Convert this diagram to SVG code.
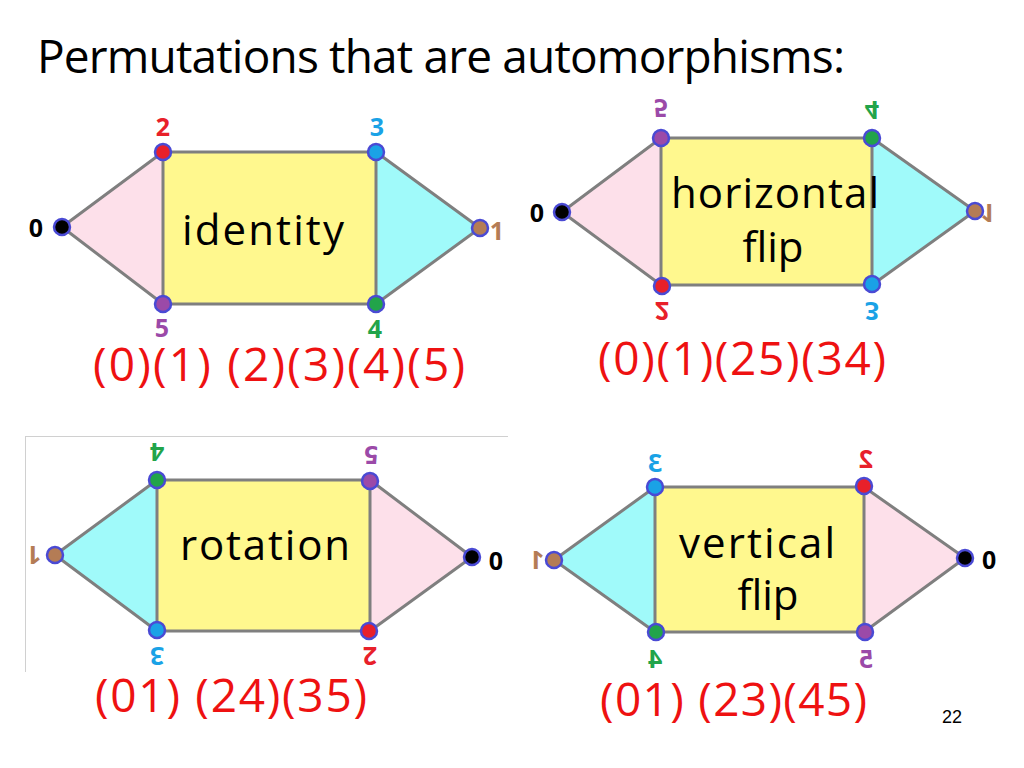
<svg xmlns="http://www.w3.org/2000/svg" width="1024" height="768" viewBox="0 0 1024 768">
<style>
  .txt { font-family: "Comic Sans MS", "Open Sans", "DejaVu Sans", sans-serif; }
  .title { font-size: 46px; fill: #000; }
  .perm { font-size: 46px; fill: #ee1111; }
  .inner { font-size: 42px; fill: #000; text-anchor: middle; }
  .lbl { font-family: "Comic Sans MS", "Open Sans", "DejaVu Sans", sans-serif; font-size: 25px; font-weight: bold; text-anchor: middle; }
  .edge { stroke: #7f7f7f; stroke-width: 3; fill: none; stroke-linecap: round; }
  .pink { fill: #fde0ea; }
  .cyan { fill: #a0fafa; }
  .yel { fill: #fff88e; }
  .node { stroke: #4a4ad4; stroke-width: 2.5; }
  .c0 { fill: #000000; } .c1 { fill: #b47c55; } .c2 { fill: #e8202a; }
  .c3 { fill: #1aa2e6; } .c4 { fill: #22a44a; } .c5 { fill: #9b4aa8; }
  .pg { font-family: "Liberation Sans", Arial, sans-serif; font-size: 18px; fill: #000; }
</style>
<rect width="1024" height="768" fill="#ffffff"/>

<text class="txt title" x="37" y="73" textLength="808" lengthAdjust="spacing">Permutations that are automorphisms:</text>

<!-- Diagram 1: identity -->
<g id="d1">
  <g id="d1-faces">
    <polygon class="pink" points="62,227 163,152 163,304"/>
    <rect class="yel" x="163" y="152" width="213" height="152"/>
    <polygon class="cyan" points="480,228 376,152 376,304"/>
  </g>
  <g id="d1-edges">
    <line class="edge" x1="62" y1="227" x2="163" y2="152"/>
    <line class="edge" x1="163" y1="152" x2="376" y2="152"/>
    <line class="edge" x1="376" y1="152" x2="480" y2="228"/>
    <line class="edge" x1="480" y1="228" x2="376" y2="304"/>
    <line class="edge" x1="376" y1="304" x2="163" y2="304"/>
    <line class="edge" x1="163" y1="304" x2="62" y2="227"/>
    <line class="edge" x1="163" y1="152" x2="163" y2="304"/>
    <line class="edge" x1="376" y1="152" x2="376" y2="304"/>
  </g>
  <text class="txt inner" x="263" y="245" textLength="162" lengthAdjust="spacing">identity</text>
  <g id="d1-n0"><circle class="node c0" cx="62" cy="227" r="8"/><text class="lbl c0" transform="translate(36,228)" y="9">0</text></g>
  <g id="d1-n1"><circle class="node c1" cx="480" cy="228" r="8"/><text class="lbl c1" transform="translate(497,231)" y="9">1</text></g>
  <g id="d1-n2"><circle class="node c2" cx="163" cy="152" r="8"/><text class="lbl c2" transform="translate(163,127)" y="9">2</text></g>
  <g id="d1-n3"><circle class="node c3" cx="376" cy="152" r="8"/><text class="lbl c3" transform="translate(377,127)" y="9">3</text></g>
  <g id="d1-n4"><circle class="node c4" cx="376" cy="304" r="8"/><text class="lbl c4" transform="translate(375,329)" y="9">4</text></g>
  <g id="d1-n5"><circle class="node c5" cx="163" cy="304" r="8"/><text class="lbl c5" transform="translate(162,328)" y="9">5</text></g>
  <text class="txt perm" x="93" y="381" textLength="372" lengthAdjust="spacing">(0)(1) (2)(3)(4)(5)</text>
</g>

<!-- Diagram 2: horizontal flip -->
<g id="d2">
  <g id="d2-faces">
    <polygon class="pink" points="562,212 661,138 661,285"/>
    <rect class="yel" x="661" y="138" width="211" height="147"/>
    <polygon class="cyan" points="975,211 872,138 872,285"/>
  </g>
  <g id="d2-edges">
    <line class="edge" x1="562" y1="212" x2="661" y2="138"/>
    <line class="edge" x1="661" y1="138" x2="872" y2="138"/>
    <line class="edge" x1="872" y1="138" x2="975" y2="211"/>
    <line class="edge" x1="975" y1="211" x2="872" y2="285"/>
    <line class="edge" x1="872" y1="285" x2="661" y2="285"/>
    <line class="edge" x1="661" y1="285" x2="562" y2="212"/>
    <line class="edge" x1="661" y1="138" x2="661" y2="285"/>
    <line class="edge" x1="872" y1="138" x2="872" y2="285"/>
  </g>
  <text class="txt inner" x="775" y="208" textLength="208" lengthAdjust="spacing">horizontal</text>
  <text class="txt inner" x="773" y="262">flip</text>
  <g id="d2-n0"><circle class="node c0" cx="562" cy="212" r="8"/><text class="lbl c0" transform="translate(537,213) scale(1,-1)" y="9">0</text></g>
  <g id="d2-n1"><circle class="node c1" cx="975" cy="211" r="8"/><text class="lbl c1" transform="translate(988,213) scale(1,-1)" y="9">1</text></g>
  <g id="d2-n5"><circle class="node c5" cx="661" cy="138" r="8"/><text class="lbl c5" transform="translate(661,108) scale(1,-1)" y="9">5</text></g>
  <g id="d2-n4"><circle class="node c4" cx="872" cy="138" r="8"/><text class="lbl c4" transform="translate(872,110) scale(1,-1)" y="9">4</text></g>
  <g id="d2-n3"><circle class="node c3" cx="872" cy="284" r="8"/><text class="lbl c3" transform="translate(872,311) scale(1,-1)" y="9">3</text></g>
  <g id="d2-n2"><circle class="node c2" cx="662" cy="286" r="8"/><text class="lbl c2" transform="translate(662,311) scale(1,-1)" y="9">2</text></g>
  <text class="txt perm" x="598" y="375" textLength="288" lengthAdjust="spacing">(0)(1)(25)(34)</text>
</g>

<!-- Diagram 3: rotation -->
<g id="d3">
  <g id="d3-frame">
    <line x1="25" y1="436.5" x2="508" y2="436.5" stroke="#d0d0d0" stroke-width="1"/>
    <line x1="25.5" y1="436" x2="25.5" y2="672" stroke="#d0d0d0" stroke-width="1"/>
  </g>
  <g id="d3-faces">
    <polygon class="cyan" points="55,555 157,480 157,631"/>
    <rect class="yel" x="157" y="480" width="213" height="151"/>
    <polygon class="pink" points="472,557 370,480 370,631"/>
  </g>
  <g id="d3-edges">
    <line class="edge" x1="55" y1="555" x2="157" y2="480"/>
    <line class="edge" x1="157" y1="480" x2="370" y2="480"/>
    <line class="edge" x1="370" y1="480" x2="472" y2="557"/>
    <line class="edge" x1="472" y1="557" x2="370" y2="631"/>
    <line class="edge" x1="370" y1="631" x2="157" y2="631"/>
    <line class="edge" x1="157" y1="631" x2="55" y2="555"/>
    <line class="edge" x1="157" y1="480" x2="157" y2="631"/>
    <line class="edge" x1="370" y1="480" x2="370" y2="631"/>
  </g>
  <text class="txt inner" x="265" y="560" textLength="170" lengthAdjust="spacing">rotation</text>
  <g id="d3-n1"><circle class="node c1" cx="55" cy="555" r="8"/><text class="lbl c1" transform="translate(34,555) rotate(180)" y="9">1</text></g>
  <g id="d3-n0"><circle class="node c0" cx="472" cy="557" r="8"/><text class="lbl c0" transform="translate(496,561)" y="9">0</text></g>
  <g id="d3-n4"><circle class="node c4" cx="157" cy="480" r="8"/><text class="lbl c4" transform="translate(157,452) rotate(180)" y="9">4</text></g>
  <g id="d3-n5"><circle class="node c5" cx="370" cy="481" r="8"/><text class="lbl c5" transform="translate(371,455) rotate(180)" y="9">5</text></g>
  <g id="d3-n2"><circle class="node c2" cx="369" cy="631" r="8"/><text class="lbl c2" transform="translate(370,656) rotate(180)" y="9">2</text></g>
  <g id="d3-n3"><circle class="node c3" cx="157" cy="630" r="8"/><text class="lbl c3" transform="translate(157,656) rotate(180)" y="9">3</text></g>
  <text class="txt perm" x="95" y="712" textLength="272" lengthAdjust="spacing">(01) (24)(35)</text>
</g>

<!-- Diagram 4: vertical flip -->
<g id="d4">
  <g id="d4-faces">
    <polygon class="cyan" points="554,560 655,487 655,632"/>
    <rect class="yel" x="655" y="487" width="209" height="145"/>
    <polygon class="pink" points="965,558 864,487 864,632"/>
  </g>
  <g id="d4-edges">
    <line class="edge" x1="554" y1="560" x2="655" y2="487"/>
    <line class="edge" x1="655" y1="487" x2="864" y2="487"/>
    <line class="edge" x1="864" y1="487" x2="965" y2="558"/>
    <line class="edge" x1="965" y1="558" x2="864" y2="632"/>
    <line class="edge" x1="864" y1="632" x2="655" y2="632"/>
    <line class="edge" x1="655" y1="632" x2="554" y2="560"/>
    <line class="edge" x1="655" y1="487" x2="655" y2="632"/>
    <line class="edge" x1="864" y1="487" x2="864" y2="632"/>
  </g>
  <text class="txt inner" x="757" y="558" textLength="156" lengthAdjust="spacing">vertical</text>
  <text class="txt inner" x="768" y="610">flip</text>
  <g id="d4-n1"><circle class="node c1" cx="554" cy="560" r="8"/><text class="lbl c1" transform="translate(537,560) scale(-1,1)" y="9">1</text></g>
  <g id="d4-n0"><circle class="node c0" cx="965" cy="558" r="8"/><text class="lbl c0" transform="translate(989,560) scale(-1,1)" y="9">0</text></g>
  <g id="d4-n3"><circle class="node c3" cx="655" cy="487" r="8"/><text class="lbl c3" transform="translate(655,463) scale(-1,1)" y="9">3</text></g>
  <g id="d4-n2"><circle class="node c2" cx="864" cy="486" r="8"/><text class="lbl c2" transform="translate(866,459) scale(-1,1)" y="9">2</text></g>
  <g id="d4-n5"><circle class="node c5" cx="865" cy="632" r="8"/><text class="lbl c5" transform="translate(866,659) scale(-1,1)" y="9">5</text></g>
  <g id="d4-n4"><circle class="node c4" cx="656" cy="632" r="8"/><text class="lbl c4" transform="translate(655,659) scale(-1,1)" y="9">4</text></g>
  <text class="txt perm" x="600" y="716" textLength="267" lengthAdjust="spacing">(01) (23)(45)</text>
</g>

<text class="pg" x="942" y="723">22</text>
</svg>
